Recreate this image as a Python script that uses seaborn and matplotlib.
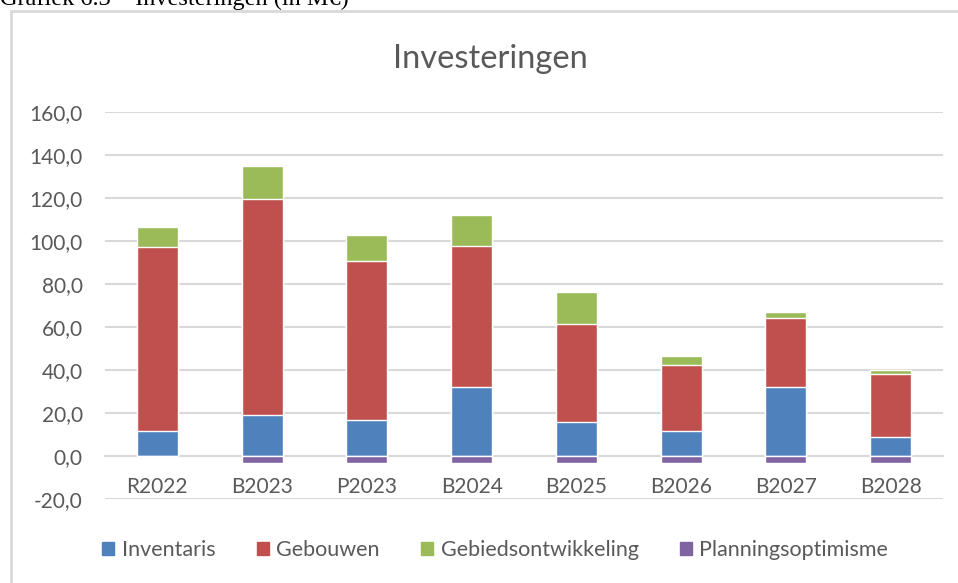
import pandas as pd
import matplotlib.pyplot as plt
import matplotlib.patches as mpatches
from matplotlib.ticker import FuncFormatter, MultipleLocator
import seaborn as sns

# values (M€)
jaren = ["R2022", "B2023", "P2023", "B2024", "B2025", "B2026", "B2027", "B2028"]
inventaris = [11.8, 19.0, 16.8, 32.2, 16.0, 11.8, 32.2, 9.0]
gebouwen = [85.2, 100.3, 73.7, 65.5, 45.2, 30.7, 32.0, 29.3]
gebiedsontwikkeling = [9.5, 15.4, 12.4, 14.3, 14.8, 4.0, 2.8, 1.7]
planningsoptimisme = [0.0, -3.5, -3.5, -3.5, -3.5, -3.5, -3.5, -3.5]

kleuren = {"Inventaris": "#4F81BD", "Gebouwen": "#C0504D",
           "Gebiedsontwikkeling": "#9BBB59", "Planningsoptimisme": "#8064A2"}

df = pd.DataFrame({"jaar": jaren, "Inventaris": inventaris, "Gebouwen": gebouwen,
                   "Gebiedsontwikkeling": gebiedsontwikkeling,
                   "Planningsoptimisme": planningsoptimisme})
# cumulative tops for the stacked look (draw tallest first)
df["top_inv"] = df["Inventaris"]
df["top_geb"] = df["top_inv"] + df["Gebouwen"]
df["top_gbo"] = df["top_geb"] + df["Gebiedsontwikkeling"]

sns.set_style("white")
plt.rcParams["font.family"] = ["Lato", "DejaVu Sans"]
txt = "#595959"
grid_c = "#D9D9D9"

fig = plt.figure(figsize=(9.58, 5.83), dpi=100)
ax = fig.add_axes([0.1096, 0.1441, 0.8747, 0.6643])

w = 0.39
sns.barplot(data=df, x="jaar", y="top_gbo", color=kleuren["Gebiedsontwikkeling"],
            width=w, saturation=1, ax=ax, zorder=3)
sns.barplot(data=df, x="jaar", y="top_geb", color=kleuren["Gebouwen"],
            width=w, saturation=1, ax=ax, zorder=3)
sns.barplot(data=df, x="jaar", y="top_inv", color=kleuren["Inventaris"],
            width=w, saturation=1, ax=ax, zorder=3)
sns.barplot(data=df, x="jaar", y="Planningsoptimisme", color=kleuren["Planningsoptimisme"],
            width=w, saturation=1, ax=ax, zorder=3)

ax.set_ylim(-20, 160)
ax.set_xlim(-0.5, len(jaren) - 0.5)
ax.yaxis.set_major_locator(MultipleLocator(20))
ax.yaxis.set_major_formatter(FuncFormatter(lambda v, p: f"{v:.1f}".replace(".", ",")))
ax.grid(axis="y", color=grid_c, linewidth=1.5, zorder=0)
ax.set_axisbelow(True)
for s in ["top", "right", "left"]:
    ax.spines[s].set_visible(False)
ax.spines["bottom"].set_position(("data", 0))
ax.spines["bottom"].set_color(grid_c)
ax.spines["bottom"].set_linewidth(1.5)
ax.spines["bottom"].set_zorder(1)
ax.set_xlabel("")
ax.set_ylabel("")
ax.tick_params(axis="y", length=0, pad=16, labelsize=15, labelcolor=txt)
ax.tick_params(axis="x", length=0, pad=15, labelsize=15, labelcolor=txt)

# chart title
fig.text(0.512, 1 - 68 / 583, "Investeringen", ha="center", va="baseline",
         fontsize=23.5, color=txt)
# caption above the chart box (cut off in the source)
fig.text(0.0, 1 - 5 / 583, "Grafiek 6.3 \u2013 Investeringen (in M\u20ac)",
         ha="left", va="baseline", fontsize=17.5, family="Liberation Serif", color="black")

# chart box
fig.patches.append(mpatches.Rectangle((11 / 958, -0.1), 1.2, 1.1 - 11 / 583,
                                      transform=fig.transFigure, fill=False,
                                      edgecolor=grid_c, linewidth=2))

handles = [mpatches.Patch(color=kleuren[k], label=k) for k in kleuren]
fig.legend(handles=handles, loc="center", bbox_to_anchor=(0.517, 1 - 550 / 583),
           ncol=4, frameon=False, fontsize=15.5, handlelength=0.56, handleheight=0.56,
           handletextpad=0.36, columnspacing=1.9, labelcolor=txt)

fig.savefig("out.png", dpi=100)
plt.close(fig)
